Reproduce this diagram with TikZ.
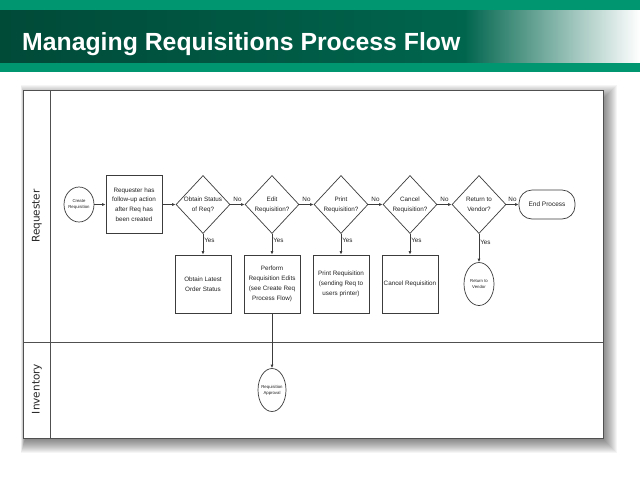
\documentclass[tikz,border=0pt]{standalone}
\usepackage{fontspec}
\setmainfont{Liberation Sans}
\newfontfamily\lanef{DejaVu Sans}
\usetikzlibrary{shapes.geometric,arrows.meta}
\definecolor{topgreen}{HTML}{009770}
\definecolor{darkgreenA}{HTML}{004A38}
\definecolor{darkgreenB}{HTML}{00654D}
\definecolor{linec}{HTML}{3C3C3C}
\definecolor{framec}{HTML}{505050}
\definecolor{txtc}{HTML}{222222}
\tikzset{
  proc/.style={draw=linec, line width=0.7pt, minimum width=56, minimum height=58, inner sep=1pt,
    align=center, text=txtc, font=\fontsize{6.3}{9.8}\selectfont},
  dec/.style={draw=linec, line width=0.7pt, diamond, minimum width=54, minimum height=58, inner sep=0pt},
  dectext/.style={align=center, text=txtc, inner sep=0pt, font=\fontsize{6.3}{9.8}\selectfont},
  term/.style={draw=linec, line width=0.7pt, ellipse, inner sep=0pt},
  tinytext/.style={align=center, text=txtc, inner sep=0pt, font=\fontsize{4.3}{6}\selectfont},
  endbox/.style={draw=linec, line width=0.7pt, rounded corners=13, minimum width=56, minimum height=29,
    inner sep=1pt, text=txtc, font=\fontsize{6.5}{8}\selectfont},
  flow/.style={draw=linec, line width=0.7pt, -{Latex[length=3.5pt,width=3pt]}},
  lab/.style={text=txtc, inner sep=1pt, font=\fontsize{6.3}{8}\selectfont},
  lane/.style={rotate=90, text=black!85, font=\lanef\fontsize{10.5}{12}\selectfont, inner sep=0pt}
}
\begin{document}
\begin{tikzpicture}[x=1pt,y=-1pt]
\useasboundingbox (0,0) rectangle (640,480);
\fill[white] (0,0) rectangle (640,480);
% header
\fill[topgreen] (0,0) rectangle (640,10);
\shade[left color=darkgreenA, right color=darkgreenB] (0,10) rectangle (465,63);
\shade[left color=darkgreenB, right color=white] (464.5,10) rectangle (640,63);
\fill[topgreen] (0,63) rectangle (640,72);
\node[anchor=base west, text=white, inner sep=0pt, font=\bfseries\fontsize{24.8}{28}\selectfont] (title) at (22,50) {Managing Requisitions Process Flow};
% shadow of the sheet
\foreach \i in {0,...,13}
  \fill[black, opacity=0.04] (21+0.3*\i, 85+\i) rectangle (617-\i, 453-\i);
% sheet and lanes
\fill[white] (23,90) rectangle (603,438);
\draw[framec, line width=1pt] (23,90) rectangle (603,438);
\draw[framec, line width=0.8pt] (50,90) -- (50,438);
\draw[framec, line width=0.8pt] (23,342) -- (603,342);
\node[lane] (lreq) at (37,216) {Requester};
\node[lane] (linv) at (37,389) {Inventory};
% nodes
\node[term, minimum width=30, minimum height=35, label={[tinytext]center:Create\\Requisition}] (c) at (79,204.5) {};
\node[proc] (b1) at (134,204.5) {Requester has\\follow-up action\\after Req has\\been created};
\node[dec, label={[dectext]center:Obtain Status\\of Req?}] (d1) at (203,204.5) {};
\node[dec, label={[dectext]center:Edit\\Requisition?}] (d2) at (272,204.5) {};
\node[dec, label={[dectext]center:Print\\Requisition?}] (d3) at (341,204.5) {};
\node[dec, label={[dectext]center:Cancel\\Requisition?}] (d4) at (410,204.5) {};
\node[dec, label={[dectext]center:Return to\\Vendor?}] (d5) at (479,204.5) {};
\node[endbox] (e) at (547,204.5) {End Process};
\node[proc] (o1) at (203,284) {Obtain Latest\\Order Status};
\node[proc] (o2) at (272,284) {Perform\\Requisition Edits\\(see Create Req\\Process Flow)};
\node[proc] (o3) at (341,284) {Print Requisition\\(sending Req to\\users printer)};
\node[proc] (o4) at (410,284) {Cancel Requisition};
\node[term, minimum width=30, minimum height=43, label={[tinytext]center:Return to\\Vendor}] (rv) at (479,284) {};
\node[term, minimum width=28, minimum height=43, label={[tinytext]center:Requisition\\Approval}] (ra) at (272,390) {};
% connectors
\draw[flow] (c) -- (b1);
\draw[flow] (b1) -- (d1);
\draw[flow] (d1) -- node[lab, above=2pt] {No} (d2);
\draw[flow] (d2) -- node[lab, above=2pt] {No} (d3);
\draw[flow] (d3) -- node[lab, above=2pt] {No} (d4);
\draw[flow] (d4) -- node[lab, above=2pt] {No} (d5);
\draw[flow] (d5) -- node[lab, above=2pt] {No} (e);
\draw[flow] (d1) -- node[lab, right, pos=0.3] {Yes} (o1);
\draw[flow] (d2) -- node[lab, right, pos=0.3] {Yes} (o2);
\draw[flow] (d3) -- node[lab, right, pos=0.3] {Yes} (o3);
\draw[flow] (d4) -- node[lab, right, pos=0.3] {Yes} (o4);
\draw[flow] (d5) -- node[lab, right, pos=0.3] {Yes} (rv);
\draw[flow] (o2) -- (ra);
\end{tikzpicture}
\end{document}
